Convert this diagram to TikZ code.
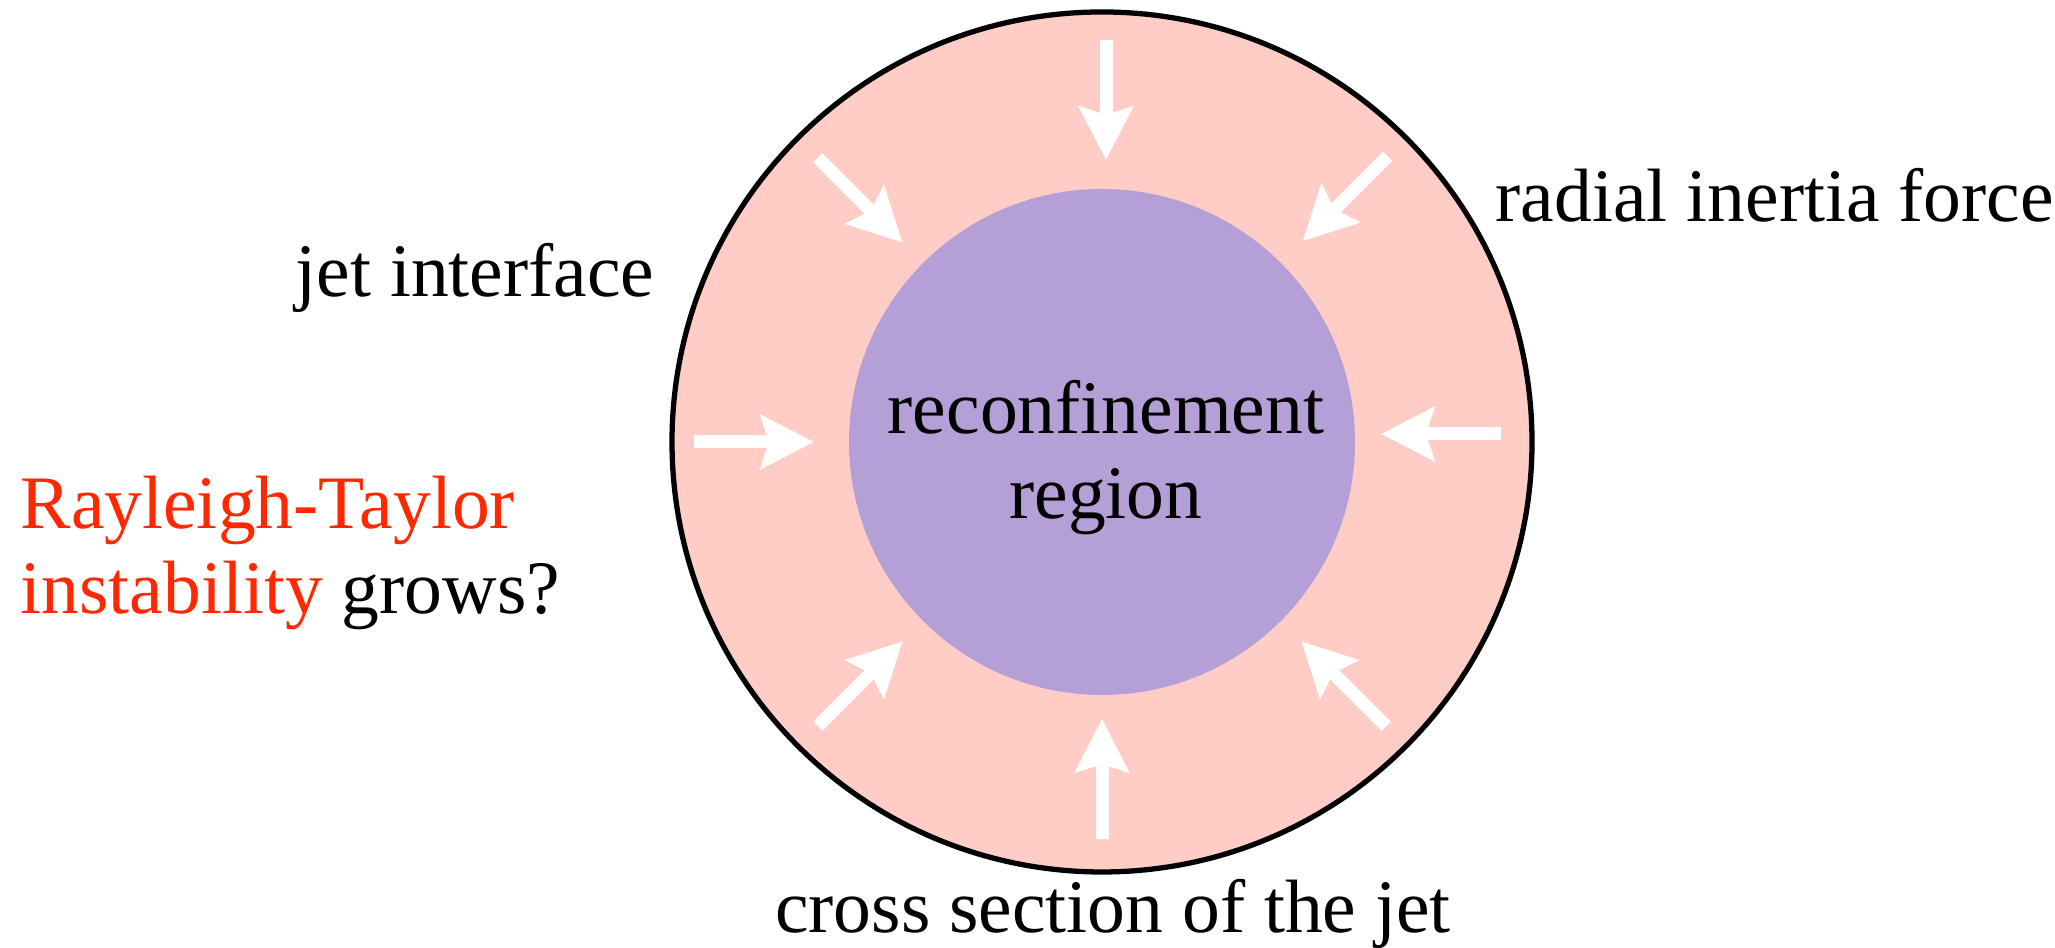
\documentclass[tikz,border=0pt]{standalone}
\usepackage{fontspec}
\setmainfont{LiberationSerif}[Extension=.ttf, UprightFont=*-Regular, BoldFont=*-Bold, ItalicFont=*-Italic, BoldItalicFont=*-BoldItalic]
\usetikzlibrary{arrows.meta, positioning, calc}

\definecolor{jetpink}{RGB}{255,205,198}
\definecolor{corepurple}{RGB}{180,160,214}
\definecolor{rtred}{RGB}{255,40,0}

\begin{document}
\begin{tikzpicture}[
    inarrow/.style={white, line width=1.3mm, -{Stealth[length=5.3mm, width=5.3mm, inset=0.8mm]}},
    lbl/.style={inner sep=0pt, font=\fontsize{21.5}{24.5}\selectfont}
  ]
        \useasboundingbox (0,0) rectangle (20.55,9.48);

        % Jet cross section and reconfinement region
        \node[circle, draw, line width=1.5pt, fill=jetpink, minimum size=8.6cm, inner sep=0pt] (jet) at (11.02,5.06) {};
        \node[circle, fill=corepurple, minimum size=5.06cm, inner sep=0pt] (core) at (jet) {};

        % Radial inertia force (arrows pointing inwards)
        \draw[inarrow] ($(jet)+(0.04,0)+(90:4.02)$) -- ($(jet)+(0.04,0)+(90:2.82)$);
        \draw[inarrow] ($(jet)+(135:4.02)$) -- ($(jet)+(135:2.82)$);
        \draw[inarrow] ($(jet)+(180:4.08)$) -- ($(jet)+(180:2.88)$);
        \draw[inarrow] ($(jet)+(225:4.02)$) -- ($(jet)+(225:2.82)$);
        \draw[inarrow] ($(jet)+(270:3.97)$) -- ($(jet)+(270:2.77)$);
        \draw[inarrow] ($(jet)+(315:4.02)$) -- ($(jet)+(315:2.82)$);
        \draw[inarrow] ($(jet)+(0,0.08)+(0:3.99)$) -- ($(jet)+(0,0.08)+(0:2.79)$);
        \draw[inarrow] ($(jet)+(45:4.04)$) -- ($(jet)+(45:2.84)$);

        % Text inside the core
        \node[lbl, anchor=base] (reg1) at (11.06,5.14) {reconfinement};
        \node[lbl, anchor=base] (reg2) at (11.06,4.29) {region};

        % Labels around the jet
        \node[lbl, anchor=base west] (iface) at (2.95,6.51) {jet interface};
        \node[lbl, anchor=base west] (force) at (14.95,7.26) {radial inertia force};
        \node[lbl, anchor=base west, text=rtred] (rt1) at (0.20,4.19) {Rayleigh-Taylor};
        \node[lbl, anchor=base west] (rt2) at (0.20,3.34) {\textcolor{rtred}{instability} grows?};
        \node[lbl, anchor=base] (cross) at (11.13,0.15) {cross section of the jet};
\end{tikzpicture}
\end{document}
